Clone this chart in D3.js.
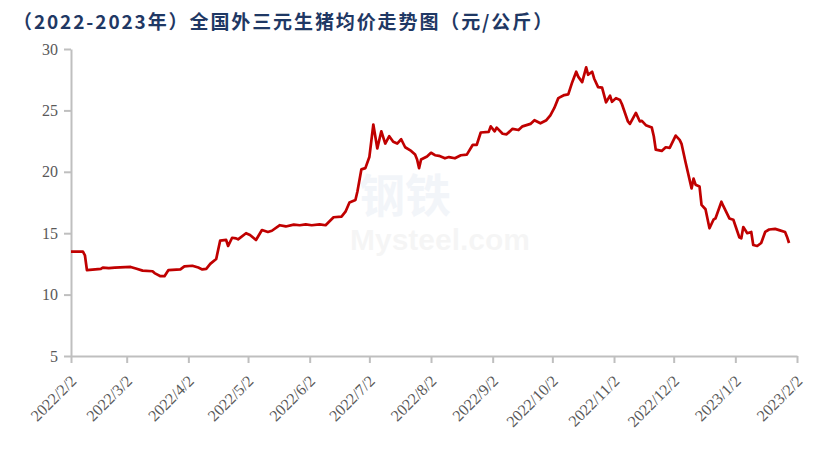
<!DOCTYPE html>
<html><head><meta charset="utf-8">
<script src="https://cdn.jsdelivr.net/npm/d3@7"></script>
<style>body{margin:0;background:#fff;}svg{display:block;}</style>
</head><body>
<svg id="chart" width="813" height="460"></svg>
<script>
const title = "（2022-2023年）全国外三元生猪均价走势图（元/公斤）";
const dates = ["2022-02-02","2022-02-08","2022-02-09","2022-02-10","2022-02-17","2022-02-18","2022-02-21","2022-02-24","2022-03-04","2022-03-07","2022-03-10","2022-03-15","2022-03-16","2022-03-19","2022-03-21","2022-03-23","2022-03-29","2022-03-31","2022-04-04","2022-04-07","2022-04-09","2022-04-11","2022-04-13","2022-04-16","2022-04-18","2022-04-21","2022-04-22","2022-04-24","2022-04-26","2022-04-27","2022-05-01","2022-05-03","2022-05-06","2022-05-09","2022-05-12","2022-05-14","2022-05-18","2022-05-21","2022-05-25","2022-05-28","2022-05-31","2022-06-03","2022-06-07","2022-06-10","2022-06-14","2022-06-18","2022-06-20","2022-06-22","2022-06-25","2022-06-26","2022-06-28","2022-06-30","2022-07-02","2022-07-04","2022-07-06","2022-07-08","2022-07-10","2022-07-12","2022-07-14","2022-07-16","2022-07-18","2022-07-20","2022-07-23","2022-07-25","2022-07-26","2022-07-27","2022-07-28","2022-07-31","2022-08-02","2022-08-04","2022-08-06","2022-08-09","2022-08-11","2022-08-14","2022-08-17","2022-08-20","2022-08-23","2022-08-25","2022-08-27","2022-08-31","2022-09-01","2022-09-03","2022-09-04","2022-09-07","2022-09-09","2022-09-12","2022-09-15","2022-09-17","2022-09-21","2022-09-23","2022-09-26","2022-09-29","2022-10-01","2022-10-03","2022-10-05","2022-10-08","2022-10-10","2022-10-12","2022-10-14","2022-10-15","2022-10-17","2022-10-19","2022-10-20","2022-10-22","2022-10-23","2022-10-25","2022-10-27","2022-10-29","2022-10-31","2022-11-01","2022-11-03","2022-11-05","2022-11-06","2022-11-09","2022-11-10","2022-11-13","2022-11-15","2022-11-16","2022-11-18","2022-11-21","2022-11-22","2022-11-23","2022-11-26","2022-11-28","2022-11-30","2022-12-03","2022-12-05","2022-12-06","2022-12-08","2022-12-11","2022-12-12","2022-12-13","2022-12-15","2022-12-16","2022-12-18","2022-12-20","2022-12-22","2022-12-23","2022-12-26","2022-12-27","2022-12-30","2023-01-01","2023-01-04","2023-01-05","2023-01-06","2023-01-08","2023-01-10","2023-01-11","2023-01-13","2023-01-15","2023-01-17","2023-01-19","2023-01-22","2023-01-24","2023-01-27","2023-01-28","2023-01-29"];
const prices = [13.5,13.5,13.2,12.0,12.1,12.2,12.15,12.2,12.25,12.1,11.95,11.9,11.75,11.5,11.5,12.0,12.05,12.3,12.35,12.2,12.05,12.1,12.5,12.9,14.4,14.45,13.96,14.63,14.58,14.5,15.0,14.85,14.45,15.26,15.1,15.2,15.65,15.55,15.7,15.65,15.72,15.65,15.72,15.65,16.3,16.35,16.75,17.5,17.7,18.4,20.2,20.3,21.2,23.85,21.9,23.3,22.3,22.9,22.45,22.3,22.65,22.0,21.7,21.4,21.0,20.3,21.0,21.25,21.55,21.35,21.3,21.1,21.2,21.1,21.35,21.4,22.2,22.2,23.2,23.25,23.7,23.3,23.6,23.1,23.05,23.5,23.4,23.7,23.9,24.2,23.95,24.2,24.6,25.2,26.0,26.25,26.3,27.3,28.15,27.75,27.3,28.5,27.9,28.15,27.6,26.9,26.85,25.66,26.2,25.7,26.0,25.85,25.5,24.1,23.9,24.8,24.1,24.15,23.8,23.6,22.9,21.8,21.7,22.0,21.95,22.95,22.6,22.25,20.75,18.65,19.45,18.95,18.8,17.3,16.95,15.4,16.1,16.2,17.56,17.2,16.2,16.1,14.67,14.58,15.5,15.0,15.1,14.04,13.96,14.2,15.1,15.3,15.35,15.25,15.1,14.7,14.2];
const yTicks = [5,10,15,20,25,30];
const xTickLabels = ["2022/2/2","2022/3/2","2022/4/2","2022/5/2","2022/6/2","2022/7/2","2022/8/2","2022/9/2","2022/10/2","2022/11/2","2022/12/2","2023/1/2","2023/2/2"];

const svg = d3.select("#chart");
const parse = d3.timeParse("%Y-%m-%d");
const parseTick = d3.timeParse("%Y/%m/%d");
const data = dates.map((d,i)=>({date:parse(d), v:prices[i]}));
const m = {left:71, right:797, top:49, bottom:356};
const x = d3.scaleTime().domain([parse("2022-02-02"), parse("2023-02-02")]).range([m.left, m.right]);
const y = d3.scaleLinear().domain([5,30]).range([m.bottom, m.top]);

// watermark
const wm = svg.append("g").attr("opacity",0.05);
wm.append("text").attr("x",405).attr("y",212).attr("text-anchor","middle")
  .attr("font-family","Noto Sans CJK SC").attr("font-weight","bold").attr("font-size",46).attr("fill","#1f4e9a").text("钢铁");
wm.append("text").attr("x",440).attr("y",250).attr("text-anchor","middle")
  .attr("font-family","Liberation Sans").attr("font-weight","bold").attr("font-size",30).attr("fill","#555").text("Mysteel.com");

svg.append("text").attr("x",13).attr("y",29)
  .attr("font-family","'Noto Sans CJK SC', sans-serif").attr("font-weight","bold")
  .attr("font-size",19).attr("letter-spacing",1.9).attr("fill","#1F3864").text(title);

const yAxis = svg.append("g").attr("transform",`translate(${m.left},0)`)
  .call(d3.axisLeft(y).tickValues(yTicks).tickSize(7).tickPadding(6).tickSizeOuter(0));
yAxis.selectAll("text").attr("font-family","'Liberation Serif', serif").attr("font-size",16).attr("fill","#595959");

const xTicks = xTickLabels.map(s=>parseTick(s));
const xAxis = svg.append("g").attr("transform",`translate(0,${m.bottom})`)
  .call(d3.axisBottom(x).tickValues(xTicks).tickFormat((d,i)=>xTickLabels[i]).tickSize(7).tickSizeOuter(0));
xAxis.selectAll("text").attr("font-family","'Liberation Serif', serif").attr("font-size",16).attr("fill","#595959")
  .attr("text-anchor","end").attr("dy",null).attr("y",0)
  .attr("transform","translate(6,26) rotate(-45)");
svg.selectAll(".domain, .tick line").attr("stroke","#BFBFBF").attr("stroke-width",2);

svg.append("path").datum(data)
  .attr("fill","none").attr("stroke","#C00000").attr("stroke-width",2.7).attr("stroke-linejoin","round")
  .attr("d", d3.line().x(d=>x(d.date)).y(d=>y(d.v)));
</script>
</body></html>
